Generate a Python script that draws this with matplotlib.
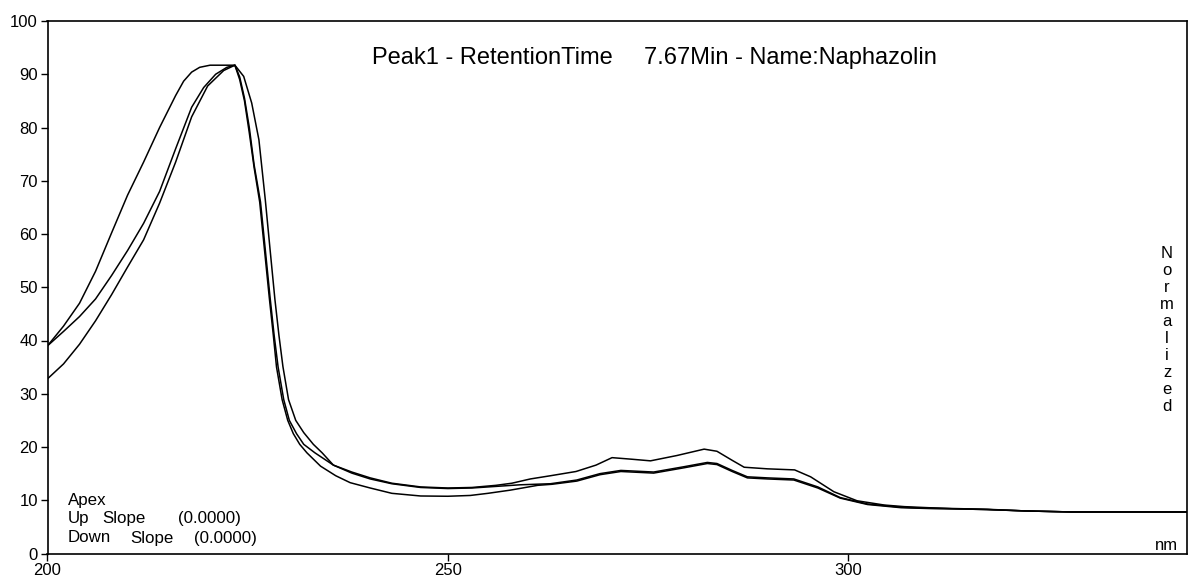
import numpy as np
import matplotlib.pyplot as plt

plt.rcParams['font.family'] = ['Liberation Sans', 'DejaVu Sans']

# spectrum 1 (leading rise, highest bump around 280 nm)
wl_a = [200, 202, 204, 206, 208, 210, 212, 214, 216, 217, 218, 219, 220.3, 223.4,
        224.0, 224.6, 225.2, 225.8, 226.6, 227.2, 227.8, 228.3, 228.8, 229.5, 230.2,
        231.1, 232.0, 233.4, 235.7, 238, 240.3, 243, 246.6, 250, 253, 256, 258, 260.3,
        262.8, 266, 268.5, 270.5, 273, 275.3, 278.6, 282, 283.6, 285.5, 287, 289.9,
        293.3, 295.3, 298.2, 301.1, 304.5, 307, 310, 313, 317.4, 322, 327.8, 342.3]
abs_a = [39.0, 42.7, 47.0, 53.0, 60.2, 67.3, 73.5, 80.0, 86.0, 88.7, 90.4, 91.3, 91.7, 91.7,
         89.5, 85.5, 80.0, 73.0, 66.0, 57.0, 48.0, 41.0, 35.0, 28.9, 25.0,
         22.5, 20.5, 18.9, 16.6, 15.3, 14.2, 13.2, 12.5, 12.3, 12.4, 12.8, 13.2, 14.0,
         14.6, 15.4, 16.6, 18.0, 17.7, 17.4, 18.4, 19.6, 19.2, 17.5, 16.2, 15.9,
         15.7, 14.4, 11.6, 9.9, 9.1, 8.8, 8.6, 8.45, 8.3, 8.0, 7.8, 7.8]

# spectrum 2 (middle rise, outer on the fall)
wl_b = [200, 202, 204, 206, 208, 210, 212, 214, 216, 218, 219.5, 221, 222.4, 223.4,
        224.5, 225.5, 226.4, 227.2, 227.8, 228.4, 228.9, 229.4, 230.1, 231, 232,
        233.2, 234.3, 235.7, 238, 240.3, 243, 246.6, 250, 253, 256, 259, 262.8,
        266.1, 269, 271.6, 275.7, 279.5, 282.4, 283.6, 285.5, 287.4, 289.9, 293.2,
        296.2, 299, 302.4, 306.6, 310, 313, 317.4, 322, 327.8, 342.3]
abs_b = [39.0, 41.7, 44.5, 47.8, 52.2, 56.9, 62.0, 68.0, 76.0, 83.8, 87.5, 90.0, 91.3, 91.7,
         89.6, 84.6, 77.7, 66.4, 57.0, 47.7, 41.0, 35.1, 28.9, 25.0, 22.7,
         20.5, 18.9, 16.6, 15.1, 14.0, 13.1, 12.4, 12.2, 12.3, 12.6, 12.9, 13.1,
         13.8, 15.0, 15.6, 15.3, 16.3, 17.1, 16.9, 15.6, 14.4, 14.2, 14.0,
         12.5, 10.5, 9.3, 8.7, 8.5, 8.4, 8.25, 8.0, 7.8, 7.8]

# spectrum 3 (lowest start)
wl_c = [200, 202, 204, 206, 208, 210, 212, 214, 216, 218, 220, 222, 223.4,
        224.0, 224.6, 225.2, 225.8, 226.5, 227.1, 227.7, 228.2, 228.6, 229.3, 230.0,
        230.7, 231.5, 232.4, 234.1, 236, 237.8, 240.3, 243, 246.6, 250, 252.8, 255,
        257.8, 261.2, 263, 266.1, 269, 271.6, 275.7, 279.5, 282.4, 283.6, 285.5,
        287.4, 289.9, 293.2, 296.2, 299, 302.4, 306.6, 310, 313, 317.4, 322, 327.8, 342.3]
abs_c = [32.8, 35.6, 39.3, 43.7, 48.6, 53.8, 58.9, 65.8, 73.5, 82.0, 87.8, 90.7, 91.7,
         89.0, 85.0, 79.0, 72.5, 66.0, 57.0, 48.0, 41.0, 35.0, 28.9, 25.0,
         22.5, 20.5, 18.9, 16.4, 14.6, 13.3, 12.3, 11.3, 10.8, 10.75, 10.9, 11.3,
         11.9, 12.8, 13.0, 13.6, 14.8, 15.4, 15.1, 16.1, 16.9, 16.7, 15.4,
         14.2, 14.0, 13.8, 12.3, 10.4, 9.2, 8.6, 8.45, 8.4, 8.25, 8.0, 7.8, 7.8]

x_ticks = [200, 250, 300]
y_ticks = np.arange(0, 101, 10)

fig = plt.figure(figsize=(11.88, 5.76), dpi=100)
ax = fig.add_axes([47.5 / 1188, 22.5 / 576, 1139.5 / 1188, 532.5 / 576])

for wl, ab in [(wl_a, abs_a), (wl_b, abs_b), (wl_c, abs_c)]:
    ax.plot(wl, ab, color='black', lw=1.1)

ax.set_xlim(200, 342.3)
ax.set_ylim(0, 100)
ax.set_xticks(x_ticks)
ax.set_yticks(y_ticks)
ax.tick_params(axis='both', labelsize=12, length=5, width=1.0, pad=2, color='black')
for s in ax.spines.values():
    s.set_linewidth(1.2)

# header and labels, positioned in figure pixels
def ftext(x, y, s, **kw):
    fig.text(x / 1188, 1 - y / 576, s, **kw)

ftext(372, 58, 'Peak1 - RetentionTime', fontsize=17, va='center')
ftext(644, 58, '7.67Min - Name:Naphazolin', fontsize=17, va='center')

ftext(68, 500, 'Apex', fontsize=12.2, va='center')
ftext(68, 519, 'Up', fontsize=12.2, va='center')
ftext(102, 519, 'Slope', fontsize=12.2, va='center')
ftext(178, 519, '(0.0000)', fontsize=12.2, va='center')
ftext(68, 538, 'Down', fontsize=12.2, va='center')
ftext(130, 538, 'Slope', fontsize=12.2, va='center')
ftext(194, 538, '(0.0000)', fontsize=12.2, va='center')

ftext(1166, 545, 'nm', fontsize=12, ha='center', va='center')
ftext(1167, 330, '\n'.join('Normalized'), fontsize=12, ha='center', va='center',
      linespacing=1.16)

plt.savefig('out.png')
